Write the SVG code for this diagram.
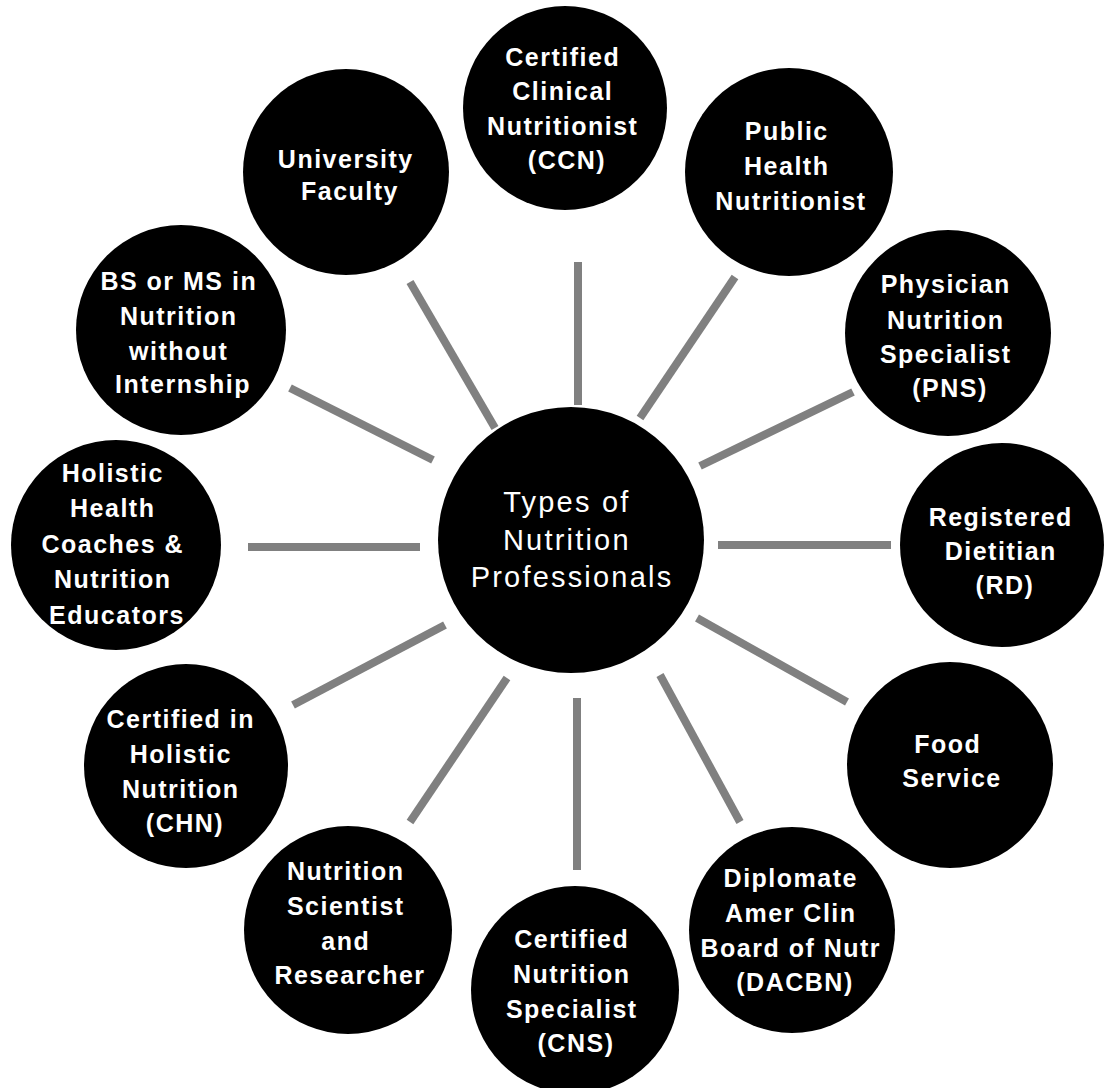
<svg xmlns="http://www.w3.org/2000/svg" width="1107" height="1088" viewBox="0 0 1107 1088">
  <style>
    .bg { fill: #ffffff; }
    .node { fill: #000000; }
    .spoke { stroke: #808080; stroke-width: 8; stroke-linecap: butt; }
    .label { fill: #ffffff; font-family: "Liberation Sans", Arial, sans-serif; font-size: 25px; font-weight: bold; letter-spacing: 1.5px; text-anchor: middle; }
    .hub { fill: #ffffff; font-family: "Liberation Sans", Arial, sans-serif; font-size: 29px; letter-spacing: 2.2px; text-anchor: middle; }
  </style>
  <rect class="bg" x="0" y="0" width="1107" height="1088"/>

  <!-- spokes from the hub to each profession -->
  <g id="connectors">
    <line class="spoke" x1="578" y1="262" x2="578" y2="405"/>
    <line class="spoke" x1="735" y1="277" x2="640" y2="418"/>
    <line class="spoke" x1="853" y1="392" x2="700" y2="466"/>
    <line class="spoke" x1="718" y1="545" x2="891" y2="545"/>
    <line class="spoke" x1="697" y1="618" x2="847" y2="702"/>
    <line class="spoke" x1="660" y1="675" x2="740" y2="822"/>
    <line class="spoke" x1="577" y1="698" x2="577" y2="870"/>
    <line class="spoke" x1="507" y1="678" x2="410" y2="822"/>
    <line class="spoke" x1="445" y1="625" x2="293" y2="705"/>
    <line class="spoke" x1="248" y1="547" x2="420" y2="547"/>
    <line class="spoke" x1="290" y1="388" x2="433" y2="460"/>
    <line class="spoke" x1="410" y1="282" x2="495" y2="428"/>
  </g>

  <g id="hub">
    <circle class="node" cx="571" cy="540" r="133"/>
    <text class="hub">
      <tspan x="572" y="512">Types of</tspan>
      <tspan x="572" y="550">Nutrition</tspan>
      <tspan x="572" y="587">Professionals</tspan>
    </text>
  </g>

  <g id="ccn">
    <circle class="node" cx="565" cy="108" r="102"/>
    <text class="label">
      <tspan x="567" y="66">Certified</tspan>
      <tspan x="567" y="100">Clinical</tspan>
      <tspan x="567" y="135">Nutritionist</tspan>
      <tspan x="567" y="169">(CCN)</tspan>
    </text>
  </g>

  <g id="public-health">
    <circle class="node" cx="789" cy="172" r="104"/>
    <text class="label">
      <tspan x="791" y="140">Public</tspan>
      <tspan x="791" y="175">Health</tspan>
      <tspan x="791" y="210">Nutritionist</tspan>
    </text>
  </g>

  <g id="pns">
    <circle class="node" cx="948" cy="333" r="103"/>
    <text class="label">
      <tspan x="950" y="293">Physician</tspan>
      <tspan x="950" y="329">Nutrition</tspan>
      <tspan x="950" y="363">Specialist</tspan>
      <tspan x="950" y="397">(PNS)</tspan>
    </text>
  </g>

  <g id="rd">
    <circle class="node" cx="1002" cy="545" r="102"/>
    <text class="label">
      <tspan x="1005" y="526">Registered</tspan>
      <tspan x="1005" y="560">Dietitian</tspan>
      <tspan x="1005" y="594">(RD)</tspan>
    </text>
  </g>

  <g id="food-service">
    <circle class="node" cx="950" cy="765" r="103"/>
    <text class="label">
      <tspan x="952" y="753">Food</tspan>
      <tspan x="952" y="787">Service</tspan>
    </text>
  </g>

  <g id="dacbn">
    <circle class="node" cx="792" cy="930" r="103"/>
    <text class="label">
      <tspan x="795" y="887">Diplomate</tspan>
      <tspan x="795" y="922">Amer Clin</tspan>
      <tspan x="795" y="957">Board of Nutr</tspan>
      <tspan x="795" y="991">(DACBN)</tspan>
    </text>
  </g>

  <g id="cns">
    <circle class="node" cx="575" cy="990" r="104"/>
    <text class="label">
      <tspan x="576" y="948">Certified</tspan>
      <tspan x="576" y="983">Nutrition</tspan>
      <tspan x="576" y="1018">Specialist</tspan>
      <tspan x="576" y="1052">(CNS)</tspan>
    </text>
  </g>

  <g id="nutrition-scientist">
    <circle class="node" cx="348" cy="930" r="104"/>
    <text class="label">
      <tspan x="350" y="880">Nutrition</tspan>
      <tspan x="350" y="915">Scientist</tspan>
      <tspan x="350" y="950">and</tspan>
      <tspan x="350" y="984">Researcher</tspan>
    </text>
  </g>

  <g id="chn">
    <circle class="node" cx="186" cy="766" r="102"/>
    <text class="label">
      <tspan x="185" y="728">Certified in</tspan>
      <tspan x="185" y="763">Holistic</tspan>
      <tspan x="185" y="798">Nutrition</tspan>
      <tspan x="185" y="832">(CHN)</tspan>
    </text>
  </g>

  <g id="holistic-coaches">
    <circle class="node" cx="116" cy="545" r="105"/>
    <text class="label">
      <tspan x="117" y="482">Holistic</tspan>
      <tspan x="117" y="517">Health</tspan>
      <tspan x="117" y="553">Coaches &amp;</tspan>
      <tspan x="117" y="588">Nutrition</tspan>
      <tspan x="117" y="624">Educators</tspan>
    </text>
  </g>

  <g id="bs-ms">
    <circle class="node" cx="181" cy="330" r="105"/>
    <text class="label">
      <tspan x="183" y="290">BS or MS in</tspan>
      <tspan x="183" y="325">Nutrition</tspan>
      <tspan x="183" y="360">without</tspan>
      <tspan x="183" y="393">Internship</tspan>
    </text>
  </g>

  <g id="university-faculty">
    <circle class="node" cx="346" cy="172" r="103"/>
    <text class="label">
      <tspan x="350" y="168">University</tspan>
      <tspan x="350" y="200">Faculty</tspan>
    </text>
  </g>
</svg>
